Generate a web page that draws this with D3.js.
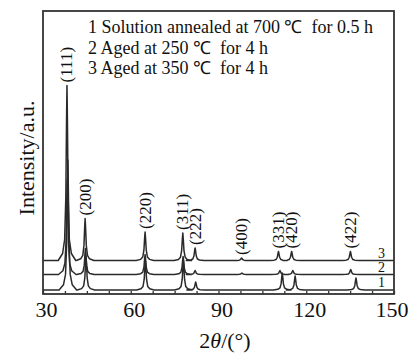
<!DOCTYPE html>
<html>
<head>
<meta charset="utf-8">
<script src="https://cdn.jsdelivr.net/npm/d3@7"></script>
<style>
  body { margin: 0; background: #fff; }
  text { font-family: "Liberation Serif", "Times New Roman", serif; fill: #111; }
</style>
</head>
<body>
<svg id="chart" width="412" height="356"></svg>
<script>
// hkl reflections, 2theta position (deg) and peak height (a.u.)
const hkl = ["(111)", "(200)", "(220)", "(311)", "(222)", "(400)", "(331)", "(420)", "(422)"];
const pos1 = [38.5, 44.7, 65.0, 78.0, 82.2, 98.2, 111.8, 116.2, 137.0];
const pos2 = [38.3, 44.5, 64.9, 77.9, 82.0, 98.0, 111.0, 115.4, 135.2];
const pos3 = [38.2, 44.4, 64.9, 77.8, 82.0, 97.9, 110.5, 115.0, 135.1];
const int1 = [130, 34, 30, 30, 8, 0, 17, 14, 12];
const int2 = [95, 26, 20, 18, 4, 1.5, 4, 4, 5];
const int3 = [175, 42, 28.5, 27.5, 12.5, 2.5, 9, 9, 9];
const baseLevel = [4, 19.5, 33.5];
const curveNames = ["1", "2", "3"];
const legendLines = [
  "1 Solution annealed at 700 \u2103  for 0.5 h",
  "2 Aged at 250 \u2103  for 4 h",
  "3 Aged at 350 \u2103  for 4 h"
];
const xTickLabels = [30, 60, 90, 120, 150];

const svg = d3.select("#chart");
const x = d3.scaleLinear().domain([30, 150]).range([43, 394]);
const y = d3.scaleLinear().domain([0, 283]).range([294, 11]);

// narrow peak profile: offset in degrees, fraction of height
const shape = [[-3, 0], [-1.5, 0.04], [-0.8, 0.12], [-0.4, 0.36], [-0.15, 0.8], [0, 1],
  [0.15, 0.8], [0.4, 0.36], [0.8, 0.12], [1.5, 0.04], [3, 0]];

const curves = [
  { name: curveNames[0], pos: pos1, h: int1, base: baseLevel[0] },
  { name: curveNames[1], pos: pos2, h: int2, base: baseLevel[1] },
  { name: curveNames[2], pos: pos3, h: int3, base: baseLevel[2] }
];

function curvePoints(c) {
  let pts = [[30, c.base]];
  c.pos.forEach((p, i) => {
    if (c.h[i] <= 0) return;
    shape.forEach(([dx, f]) => pts.push([p + dx, c.base + f * c.h[i]]));
  });
  pts.push([150, c.base]);
  return pts;
}

const line = d3.line().x((d) => x(d[0])).y((d) => y(d[1]));

svg.append("g")
  .selectAll("path")
  .data(curves)
  .join("path")
  .attr("fill", "none")
  .attr("stroke", "#2a2a2a")
  .attr("stroke-width", 1.5)
  .attr("stroke-linejoin", "round")
  .attr("d", (c) => line(curvePoints(c)));

// curve numbers at the right end
svg.append("g")
  .selectAll("text")
  .data(curves)
  .join("text")
  .attr("x", x(145.7))
  .attr("y", (c) => y(c.base) - 3)
  .attr("text-anchor", "middle")
  .attr("font-size", 14)
  .text((c) => c.name);

// hkl labels above the highest peak
svg.append("g")
  .selectAll("text")
  .data(hkl)
  .join("text")
  .attr("transform", (d, i) => {
    const top = d3.max(curves, (c) => c.base + c.h[i]);
    return `translate(${x(pos3[i])},${y(top) - 3}) rotate(-90)`;
  })
  .attr("dy", "0.32em")
  .attr("font-size", 17)
  .text((d) => d);

// frame
svg.append("rect")
  .attr("x", 43).attr("y", 11)
  .attr("width", 351).attr("height", 283)
  .attr("fill", "none")
  .attr("stroke", "#333")
  .attr("stroke-width", 1.8);

// bottom ticks (inward) and labels
const axis = svg.append("g")
  .attr("transform", "translate(0,294)")
  .call(d3.axisBottom(x)
    .tickValues(d3.range(30, 151, 7.5))
    .tickSizeInner(-3)
    .tickSizeOuter(0)
    .tickPadding(7)
    .tickFormat((d) => (xTickLabels.includes(d) ? d : "")));
axis.select(".domain").remove();
axis.selectAll("line").attr("stroke", "#333").attr("stroke-width", 1.3);
axis.selectAll("text")
  .style("font-family", "'Liberation Serif', serif")
  .style("font-size", "22px")
  .attr("fill", "#111")
  .attr("dx", 3);
axis.selectAll("text").filter((d) => d === 150)
  .attr("text-anchor", "end").attr("dx", 14);

// legend
svg.append("g")
  .selectAll("text")
  .data(legendLines)
  .join("text")
  .attr("x", 88)
  .attr("y", (d, i) => 33 + i * 20.5)
  .attr("font-size", 18)
  .style("white-space", "pre")
  .text((d) => d);

// axis titles
svg.append("text")
  .attr("transform", "translate(34,158) rotate(-90)")
  .attr("text-anchor", "middle")
  .attr("font-size", 22)
  .text("Intensity/a.u.");

const xt = svg.append("text")
  .attr("x", 225).attr("y", 348)
  .attr("text-anchor", "middle")
  .attr("font-size", 22);
xt.append("tspan").text("2");
xt.append("tspan").attr("font-style", "italic").text("\u03b8");
xt.append("tspan").text("/(\u00b0)");
</script>
</body>
</html>
